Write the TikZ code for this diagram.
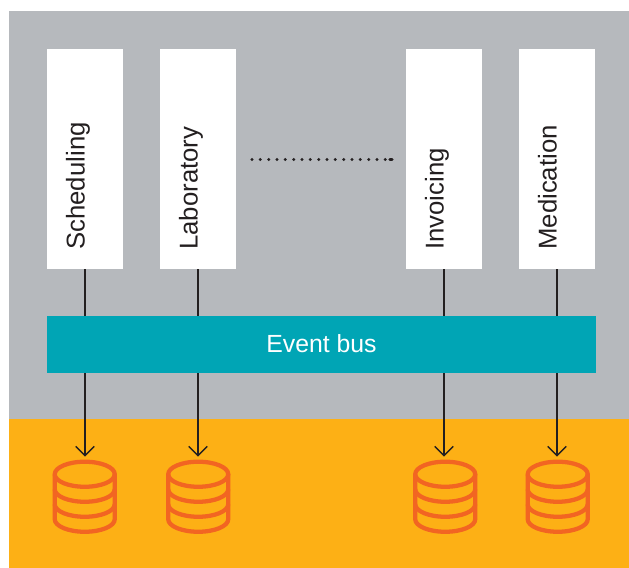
\documentclass[tikz,border=0pt]{standalone}
\usepackage{fontspec}
\setmainfont{Liberation Sans}
\usetikzlibrary{arrows.meta}
\definecolor{panelgray}{HTML}{B6B9BD}
\definecolor{storeband}{HTML}{FDB015}
\definecolor{storeline}{HTML}{F26522}
\definecolor{busteal}{HTML}{00A5B5}
\definecolor{inkdark}{HTML}{231F20}
\tikzset{
  x=0.75pt, y=-0.75pt,
  svc/.style={fill=white, draw=none, rotate=90, minimum width=165pt, minimum height=57pt,
    text width=150pt, align=left, inner sep=0pt, font=\fontsize{19.3}{22}\selectfont, text=inkdark},
  busbox/.style={fill=busteal, draw=none, text=white, minimum width=411.75pt, minimum height=42.75pt,
    inner sep=0pt, font=\fontsize{18.6}{22}\selectfont},
  dbnode/.style={minimum width=45pt, minimum height=42pt, inner sep=0pt, draw=none},
  flow/.style={draw=inkdark, line width=1.1pt, shorten >=3.75pt, -{Straight Barb[length=7pt,width=14pt,line width=1.1pt]}},
  dbstroke/.style={draw=storeline, line width=3.2pt},
  dotrow/.style={draw=inkdark, line width=2.4pt, line cap=round, dash pattern=on 0pt off 6.25pt},
}
\newcommand{\drawdb}[1]{%
  \draw[dbstroke] (#1.north west) ++(0,12.5) coordinate (dbA)
     arc[start angle=180,end angle=-180,x radius=22.5pt,y radius=9.4pt];
  \draw[dbstroke] (dbA) -- ++(0,45) arc[start angle=180,end angle=360,x radius=22.5pt,y radius=9.4pt] -- ++(0,-45);
  \draw[dbstroke] (dbA) ++(0,15) arc[start angle=180,end angle=360,x radius=22.5pt,y radius=9.4pt];
  \draw[dbstroke] (dbA) ++(0,30) arc[start angle=180,end angle=360,x radius=22.5pt,y radius=9.4pt];
}
\newcommand{\svctext}[1]{\raisebox{0.2pt}[0pt][0pt]{\hspace*{7pt}#1}}
\begin{document}
\begin{tikzpicture}
\useasboundingbox (0,0) rectangle (629,568);
\fill[white] (0,0) rectangle (629,568);
\fill[panelgray] (9,11) rectangle (629,419);
\fill[storeband] (9,419) rectangle (629,568);

\node[svc] (sched) at (85,159) {\svctext{Scheduling}};
\node[svc] (lab) at (198,159) {\svctext{Laboratory}};
\node[svc] (inv) at (444,159) {\svctext{Invoicing}};
\node[svc] (med) at (557,159) {\svctext{Medication}};

\node[dbnode] (db1) at (85,490) {};
\node[dbnode] (db2) at (198.5,490) {};
\node[dbnode] (db3) at (445.5,490) {};
\node[dbnode] (db4) at (558,490) {};
\drawdb{db1}\drawdb{db2}\drawdb{db3}\drawdb{db4}

\draw[flow] (sched.west) -- (sched.west |- db1.north);
\draw[flow] (lab.west) -- (lab.west |- db2.north);
\draw[flow] (inv.west) -- (inv.west |- db3.north);
\draw[flow] (med.west) -- (med.west |- db4.north);

\node[busbox] (bus) at (321.5,344) {Event bus};

\coordinate (dotA) at (252,159.5);
\coordinate (dotB) at (392,159.5);
\coordinate (dotC) at (390,159.5);
\draw[dotrow] (dotA) -- (dotB);
\draw[draw=inkdark, line width=2.4pt, line cap=round] (dotC) -- (dotB);
\end{tikzpicture}
\end{document}
